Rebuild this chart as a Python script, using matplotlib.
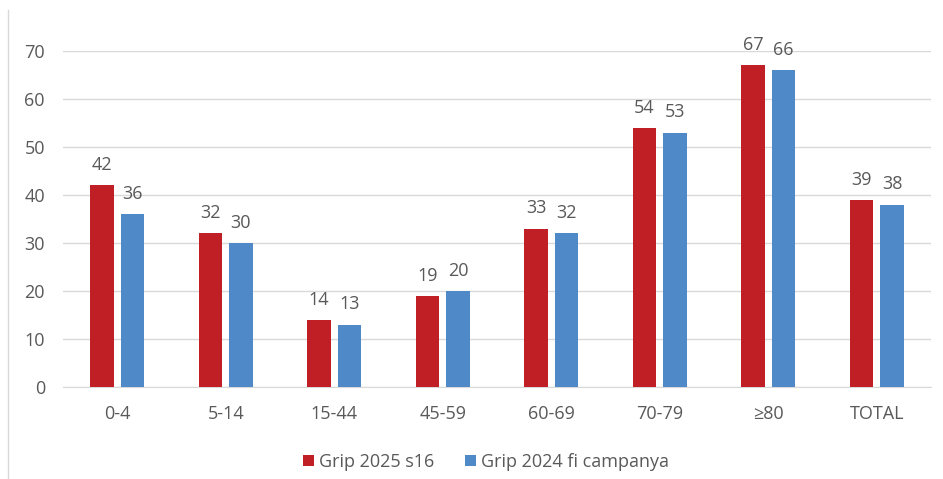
import numpy as np
import matplotlib.pyplot as plt
from matplotlib.lines import Line2D

categories = ['0-4', '5-14', '15-44', '45-59', '60-69', '70-79', '≥80', 'TOTAL']
grip_2025_s16 = [42, 32, 14, 19, 33, 54, 67, 39]
grip_2024_fi = [36, 30, 13, 20, 32, 53, 66, 38]
series_names = ['Grip 2025 s16', 'Grip 2024 fi campanya']

RED = '#C01F26'
BLUE = '#4F89C8'
TXT = '#595959'
FS = 13

plt.rcParams['font.family'] = ['Open Sans', 'DejaVu Sans']

fig = plt.figure(figsize=(9.43, 4.79), dpi=100)
ax = fig.add_axes([63 / 943, 1 - 387 / 479, (931 - 63) / 943, (387 - 51) / 479])

x = np.arange(len(categories))
w = 0.22
off = 0.14
b1 = ax.bar(x - off, grip_2025_s16, w, color=RED, label=series_names[0], zorder=3)
b2 = ax.bar(x + off, grip_2024_fi, w, color=BLUE, label=series_names[1], zorder=3)

# value labels above each bar
for bars in (b1, b2):
    for rect in bars:
        ax.annotate(f'{rect.get_height():.0f}', (rect.get_x() + rect.get_width() / 2, rect.get_height()),
                    xytext=(0, 8), textcoords='offset points', ha='center', va='bottom',
                    fontsize=FS, color=TXT, annotation_clip=False)

ax.set_xlim(-0.5, len(categories) - 0.5)
ax.set_ylim(0, 70)
ax.set_yticks(range(0, 71, 10))
ax.set_xticks(x)
ax.set_xticklabels(categories)
ax.tick_params(axis='both', length=0, labelsize=FS, labelcolor=TXT)
ax.tick_params(axis='y', pad=13)
ax.tick_params(axis='x', pad=13)
ax.grid(axis='y', color='#D9D9D9', linewidth=1, zorder=0)
for s in ['top', 'right', 'left']:
    ax.spines[s].set_visible(False)
ax.spines['bottom'].set_color('#D9D9D9')

leg = fig.legend(loc='center', bbox_to_anchor=(486 / 943, 1 - 462 / 479), ncol=2, frameon=False,
                 fontsize=FS, handlelength=0.6, handleheight=0.6, handletextpad=0.3, columnspacing=1.7)
for t in leg.get_texts():
    t.set_color(TXT)

# thin border line at the left edge
fig.add_artist(Line2D([8 / 943, 8 / 943], [0, 1 - 10 / 479], color='#D9D9D9', linewidth=1))

fig.savefig('out.png', dpi=100)
